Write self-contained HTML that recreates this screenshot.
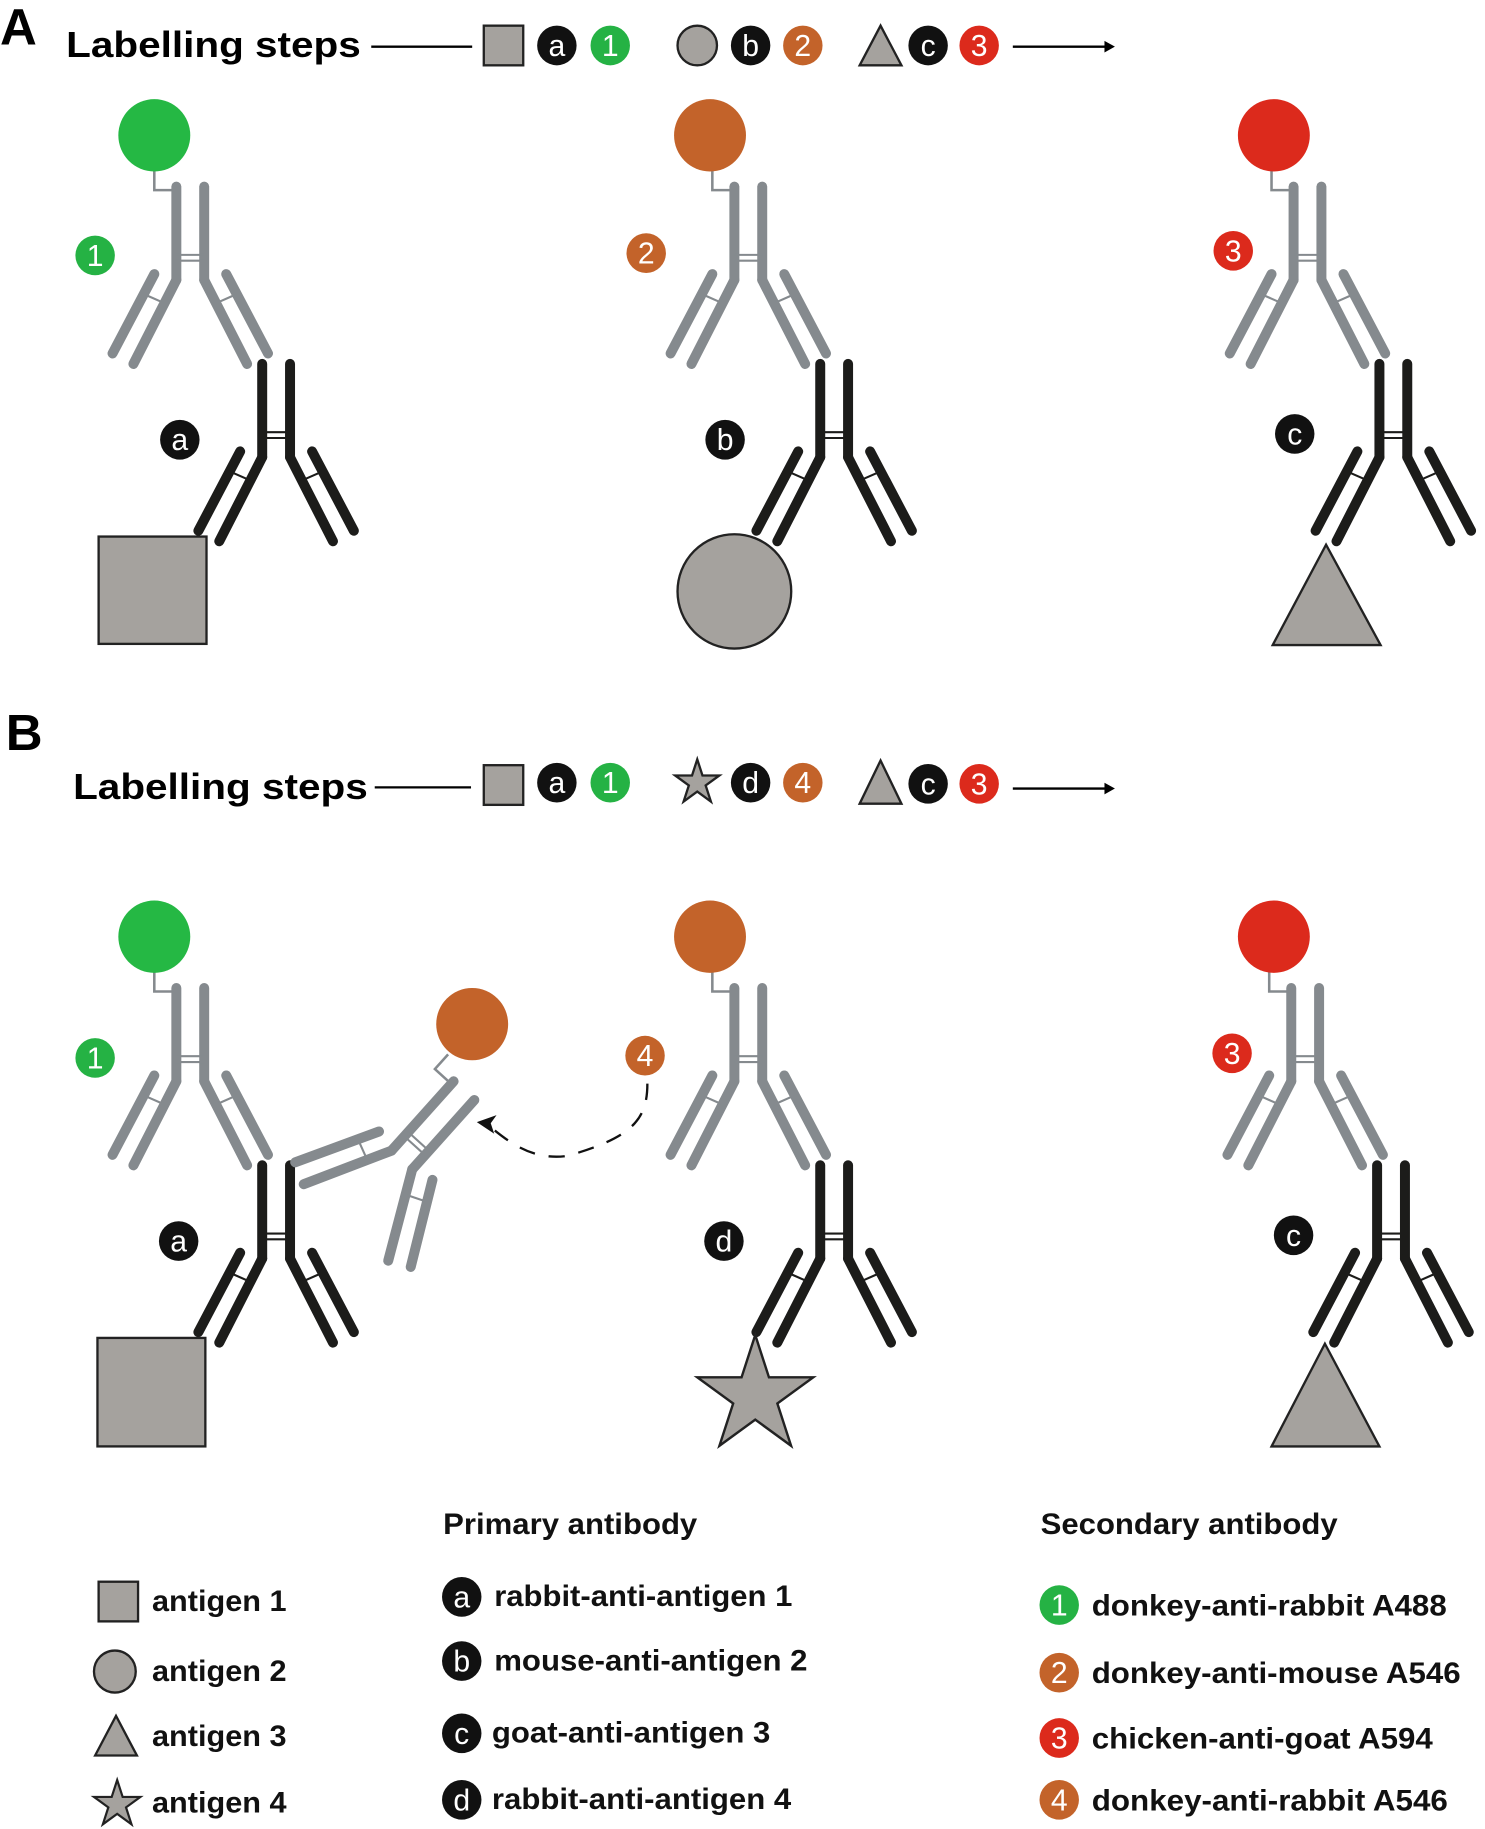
<!DOCTYPE html>
<html><head><meta charset="utf-8"><style>html,body{margin:0;padding:0;background:#fff}svg{display:block}</style></head><body>
<svg width="1485" height="1829" viewBox="0 0 1280 1568" preserveAspectRatio="none" xmlns="http://www.w3.org/2000/svg" font-family="Liberation Sans, Arial, sans-serif">
<defs>
<g id="ab">
  <g stroke-linecap="round" stroke-width="8.6" fill="none">
    <line x1="0" y1="0" x2="0" y2="80"/>
    <line x1="24" y1="0" x2="24" y2="80"/>
    <line x1="0" y1="80" x2="-37" y2="152"/>
    <line x1="24" y1="80" x2="61" y2="152"/>
    <line x1="-19" y1="75" x2="-55" y2="143"/>
    <line x1="43" y1="75" x2="79" y2="143"/>
  </g>
  <g stroke-width="1.8">
    <line x1="0" y1="58.5" x2="24" y2="58.5"/>
    <line x1="0" y1="63.5" x2="24" y2="63.5"/>
    <line x1="-10" y1="100" x2="-26" y2="93"/>
    <line x1="34" y1="100" x2="50" y2="93"/>
  </g>
</g>
<g id="gab">
  <polyline points="-19,-14 -19,3 -4,3" fill="none" stroke="#858a8e" stroke-width="2.2"/>
  <use href="#ab" stroke="#858a8e"/>
</g>
<polygon id="star" points="0,-1 0.225,-0.309 0.951,-0.309 0.363,0.118 0.588,0.809 0,0.382 -0.588,0.809 -0.363,0.118 -0.951,-0.309 -0.225,-0.309"/>
</defs>

<!-- Header A -->
<text x="0" y="38" font-size="44" font-weight="bold">A</text>
<text x="57" y="49" font-size="31" font-weight="bold" textLength="254" lengthAdjust="spacingAndGlyphs">Labelling steps</text>
<line x1="320" y1="40" x2="407" y2="40" stroke="#000" stroke-width="2"/>
<rect x="417" y="22" width="34" height="34" fill="#a5a29e" stroke="#222" stroke-width="2"/>
<g font-size="26" text-anchor="middle" fill="#fff">
<circle cx="480" cy="39" r="17" fill="#111"/><text x="480" y="48">a</text>
<circle cx="526" cy="39" r="17" fill="#25b244"/><text x="526" y="48">1</text>
<circle cx="601" cy="39" r="17" fill="#a5a29e" stroke="#222" stroke-width="2"/>
<circle cx="647" cy="39" r="17" fill="#111"/><text x="647" y="48">b</text>
<circle cx="692" cy="39" r="17" fill="#c3632a"/><text x="692" y="48">2</text>
<polygon points="741,56 759,22 777,56" fill="#a5a29e" stroke="#222" stroke-width="2"/>
<circle cx="800" cy="39" r="17" fill="#111"/><text x="800" y="48">c</text>
<circle cx="844" cy="39" r="17" fill="#dc2a1c"/><text x="844" y="48">3</text>
</g>
<line x1="873" y1="40" x2="955" y2="40" stroke="#000" stroke-width="2"/>
<polygon points="961,40 952,35 952,45" fill="#000"/>

<!-- Panel A antibodies -->
<use href="#gab" x="152" y="160"/><use href="#ab" x="226" y="312" stroke="#1c1c1a"/>
<use href="#gab" x="633" y="160"/><use href="#ab" x="707" y="312" stroke="#1c1c1a"/>
<use href="#gab" x="1115" y="160"/><use href="#ab" x="1189" y="312" stroke="#1c1c1a"/>
<circle cx="133" cy="116" r="31" fill="#25b844"/>
<circle cx="612" cy="116" r="31" fill="#c3632a"/>
<circle cx="1098" cy="116" r="31" fill="#dc2a1c"/>
<g font-size="26" text-anchor="middle" fill="#fff">
<circle cx="82" cy="219" r="17" fill="#25b244"/><text x="82" y="228">1</text>
<circle cx="557" cy="217" r="17" fill="#c3632a"/><text x="557" y="226">2</text>
<circle cx="1063" cy="215" r="17" fill="#dc2a1c"/><text x="1063" y="224">3</text>
<circle cx="155" cy="377" r="17" fill="#111"/><text x="155" y="386">a</text>
<circle cx="625" cy="377" r="17" fill="#111"/><text x="625" y="386">b</text>
<circle cx="1116" cy="372" r="17" fill="#111"/><text x="1116" y="381">c</text>
</g>
<rect x="85" y="460" width="93" height="92" fill="#a5a29e" stroke="#222" stroke-width="2"/>
<circle cx="633" cy="507" r="49" fill="#a5a29e" stroke="#222" stroke-width="2"/>
<polygon points="1097,553 1143,467 1190,553" fill="#a5a29e" stroke="#222" stroke-width="2"/>

<!-- Header B -->
<text x="5" y="643" font-size="44" font-weight="bold">B</text>
<text x="63" y="685" font-size="31" font-weight="bold" textLength="254" lengthAdjust="spacingAndGlyphs">Labelling steps</text>
<line x1="323" y1="675" x2="406" y2="675" stroke="#000" stroke-width="2"/>
<rect x="417" y="656" width="34" height="34" fill="#a5a29e" stroke="#222" stroke-width="2"/>
<use href="#star" transform="translate(601,671) scale(20)" fill="#a5a29e" stroke="#222" stroke-width="0.1"/>
<polygon points="741,689 759,652 777,689" fill="#a5a29e" stroke="#222" stroke-width="2"/>
<g font-size="26" text-anchor="middle" fill="#fff">
<circle cx="480" cy="671" r="17" fill="#111"/><text x="480" y="680">a</text>
<circle cx="526" cy="671" r="17" fill="#25b244"/><text x="526" y="680">1</text>
<circle cx="647" cy="671" r="17" fill="#111"/><text x="647" y="680">d</text>
<circle cx="692" cy="671" r="17" fill="#c3632a"/><text x="692" y="680">4</text>
<circle cx="800" cy="672" r="17" fill="#111"/><text x="800" y="681">c</text>
<circle cx="844" cy="672" r="17" fill="#dc2a1c"/><text x="844" y="681">3</text>
</g>
<line x1="873" y1="676" x2="955" y2="676" stroke="#000" stroke-width="2"/>
<polygon points="961,676 952,671 952,681" fill="#000"/>

<!-- Panel B antibodies -->
<use href="#gab" x="152" y="847"/><use href="#ab" x="226" y="999" stroke="#1c1c1a"/>
<use href="#gab" x="633" y="847"/><use href="#ab" x="707" y="999" stroke="#1c1c1a"/>
<use href="#gab" x="1113" y="847"/><use href="#ab" x="1187" y="999" stroke="#1c1c1a"/>
<g transform="translate(391,927) rotate(42)"><use href="#gab"/></g>
<circle cx="133" cy="803" r="31" fill="#25b844"/>
<circle cx="612" cy="803" r="31" fill="#c3632a"/>
<circle cx="1098" cy="803" r="31" fill="#dc2a1c"/>
<circle cx="407" cy="878" r="31" fill="#c3632a"/>
<path d="M558,929 C558,960 545,975 489,991 C460,995 440,980 425,968" fill="none" stroke="#111" stroke-width="2" stroke-dasharray="14,12"/>
<polygon points="411,962 428,956 423,963 426,972" fill="#111"/>
<g font-size="26" text-anchor="middle" fill="#fff">
<circle cx="82" cy="907" r="17" fill="#25b244"/><text x="82" y="916">1</text>
<circle cx="556" cy="905" r="17" fill="#c3632a"/><text x="556" y="914">4</text>
<circle cx="1062" cy="903" r="17" fill="#dc2a1c"/><text x="1062" y="912">3</text>
<circle cx="154" cy="1064" r="17" fill="#111"/><text x="154" y="1073">a</text>
<circle cx="624" cy="1064" r="17" fill="#111"/><text x="624" y="1073">d</text>
<circle cx="1115" cy="1059" r="17" fill="#111"/><text x="1115" y="1068">c</text>
</g>
<rect x="84" y="1147" width="93" height="93" fill="#a5a29e" stroke="#222" stroke-width="2"/>
<use href="#star" transform="translate(651,1197) scale(52.5)" fill="#a5a29e" stroke="#222" stroke-width="0.04"/>
<polygon points="1096,1240 1142,1152 1189,1240" fill="#a5a29e" stroke="#222" stroke-width="2"/>

<!-- Legend -->
<g font-size="25" font-weight="bold" fill="#111" lengthAdjust="spacingAndGlyphs">
<text x="382" y="1315" textLength="219" lengthAdjust="spacingAndGlyphs">Primary antibody</text>
<text x="897" y="1315" textLength="256" lengthAdjust="spacingAndGlyphs">Secondary antibody</text>
<text x="131" y="1381" textLength="116" lengthAdjust="spacingAndGlyphs">antigen 1</text>
<text x="131" y="1441" textLength="116" lengthAdjust="spacingAndGlyphs">antigen 2</text>
<text x="131" y="1497" textLength="116" lengthAdjust="spacingAndGlyphs">antigen 3</text>
<text x="131" y="1554" textLength="116" lengthAdjust="spacingAndGlyphs">antigen 4</text>
<text x="426" y="1377" textLength="257" lengthAdjust="spacingAndGlyphs">rabbit-anti-antigen 1</text>
<text x="426" y="1432" textLength="270" lengthAdjust="spacingAndGlyphs">mouse-anti-antigen 2</text>
<text x="424" y="1494" textLength="240" lengthAdjust="spacingAndGlyphs">goat-anti-antigen 3</text>
<text x="424" y="1551" textLength="258" lengthAdjust="spacingAndGlyphs">rabbit-anti-antigen 4</text>
<text x="941" y="1385" textLength="306" lengthAdjust="spacingAndGlyphs">donkey-anti-rabbit A488</text>
<text x="941" y="1443" textLength="318" lengthAdjust="spacingAndGlyphs">donkey-anti-mouse A546</text>
<text x="941" y="1499" textLength="294" lengthAdjust="spacingAndGlyphs">chicken-anti-goat A594</text>
<text x="941" y="1552" textLength="307" lengthAdjust="spacingAndGlyphs">donkey-anti-rabbit A546</text>
</g>
<rect x="85" y="1356" width="34" height="34" fill="#a5a29e" stroke="#222" stroke-width="2"/>
<circle cx="99" cy="1433" r="18" fill="#a5a29e" stroke="#222" stroke-width="2"/>
<polygon points="82,1505 100,1471 118,1505" fill="#a5a29e" stroke="#222" stroke-width="2"/>
<use href="#star" transform="translate(101,1547) scale(21)" fill="#a5a29e" stroke="#222" stroke-width="0.09"/>
<g font-size="26" text-anchor="middle" fill="#fff">
<circle cx="398" cy="1369" r="17" fill="#111"/><text x="398" y="1378">a</text>
<circle cx="398" cy="1424" r="17" fill="#111"/><text x="398" y="1433">b</text>
<circle cx="398" cy="1486" r="17" fill="#111"/><text x="398" y="1495">c</text>
<circle cx="398" cy="1543" r="17" fill="#111"/><text x="398" y="1552">d</text>
<circle cx="913" cy="1376" r="17" fill="#25b244"/><text x="913" y="1385">1</text>
<circle cx="913" cy="1434" r="17" fill="#c3632a"/><text x="913" y="1443">2</text>
<circle cx="913" cy="1490" r="17" fill="#dc2a1c"/><text x="913" y="1499">3</text>
<circle cx="913" cy="1543" r="17" fill="#c3632a"/><text x="913" y="1552">4</text>
</g>
</svg>
</body></html>
